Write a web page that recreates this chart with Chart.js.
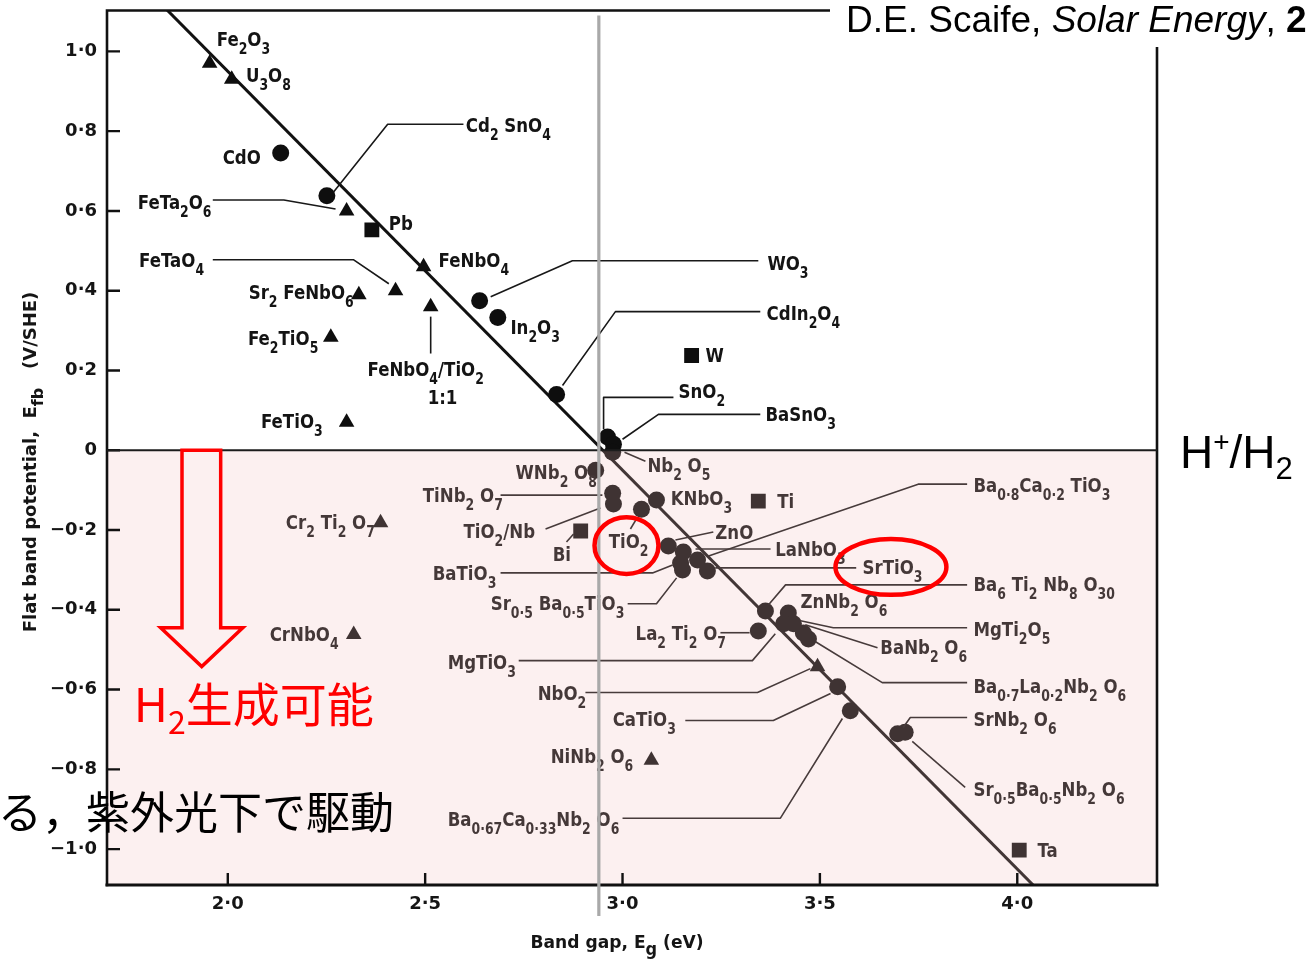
<!DOCTYPE html>
<html>
<head>
<meta charset="utf-8">
<script src="https://cdn.jsdelivr.net/npm/chart.js@4/dist/chart.umd.min.js"></script>
<style>
  html, body { margin: 0; padding: 0; background: #ffffff; }
  #wrap { width: 1306px; height: 965px; position: relative; }
</style>
</head>
<body>
<div id="wrap"><canvas id="chart" width="1306" height="965"></canvas></div>
<script>
// ---- axis ticks ----
const xTicks = [2.0, 2.5, 3.0, 3.5, 4.0];
const yTicks = [1.0, 0.8, 0.6, 0.4, 0.2, 0, -0.2, -0.4, -0.6, -0.8, -1.0];

// ---- oxides (circles) ----
const circleNames = ['CdO', 'Cd2SnO4', 'WO3', 'In2O3', 'CdIn2O4', 'SnO2', 'BaSnO3', 'Nb2O5',
  'WNb2O8', 'TiNb2O7', 'TiO2/Nb', 'KNbO3', 'TiO2', 'ZnO', 'LaNbO3', 'Ba0.8Ca0.2TiO3', 'BaTiO3',
  'Sr0.5Ba0.5TiO3', 'SrTiO3', 'Ba6Ti2Nb8O30', 'La2Ti2O7', 'ZnNb2O6', 'MgTiO3', 'MgTi2O5',
  'BaNb2O6', 'Ba0.7La0.2Nb2O6', 'CaTiO3', 'Ba0.67Ca0.33Nb2O6', 'SrNb2O6', 'Sr0.5Ba0.5Nb2O6'];
const circleGap = [2.134, 2.251, 2.638, 2.684, 2.833, 2.962, 2.977, 2.975,
  2.932, 2.975, 2.977, 3.086, 3.048, 3.116, 3.154, 3.190, 3.147,
  3.152, 3.215, 3.362, 3.344, 3.420, 3.408, 3.433,
  3.458, 3.471, 3.545, 3.577, 3.697, 3.716];
const circleEfb = [0.745, 0.638, 0.375, 0.333, 0.140, 0.033, 0.015, -0.005,
  -0.050, -0.108, -0.135, -0.125, -0.148, -0.240, -0.255, -0.275, -0.283,
  -0.300, -0.303, -0.403, -0.453, -0.408, -0.435, -0.435,
  -0.458, -0.473, -0.593, -0.653, -0.711, -0.707];

// ---- iron / chromium compounds (triangles) ----
const triangleNames = ['Fe2O3', 'U3O8', 'FeTa2O6', 'FeNbO4', 'FeTaO4', 'Sr2FeNbO6', 'FeNbO4/TiO2',
  'Fe2TiO5', 'FeTiO3', 'Cr2Ti2O7', 'CrNbO4', 'NiNb2O6', 'NbO2'];
const triangleGap = [1.954, 2.010, 2.301, 2.496, 2.425, 2.332, 2.514,
  2.261, 2.301, 2.387, 2.319, 3.073, 3.494];
const triangleEfb = [0.970, 0.930, 0.600, 0.460, 0.400, 0.390, 0.360,
  0.283, 0.070, -0.182, -0.462, -0.777, -0.543];

// ---- anodised metals (squares) ----
const squareNames = ['Pb', 'W', 'Ti', 'Bi', 'Ta'];
const squareGap = [2.365, 3.175, 3.344, 2.894, 4.005];
const squareEfb = [0.5525, 0.2375, -0.1275, -0.2025, -1.0025];

// ---- trend line  E_fb = 2.95 - E_g ----
const fitGap = [1.84, 4.06];
const fitEfb = [1.11, -1.11];

// visible-light limit (eV)
const visibleLimit = 2.94;

// ---- compound labels: left/baseline anchor in data units ("_" = subscript) ----
const annotations = [
  {t: 'Fe_2O_3', x: 1.972, y: 1.0125},
  {t: 'U_3O_8', x: 2.046, y: 0.9225},
  {t: 'CdO', x: 1.987, y: 0.7175},
  {t: 'Cd_2 SnO_4', x: 2.603, y: 0.7975},
  {t: 'FeTa_2O_6', x: 1.772, y: 0.605},
  {t: 'Pb', x: 2.408, y: 0.5525},
  {t: 'FeTaO_4', x: 1.775, y: 0.46},
  {t: 'FeNbO_4', x: 2.534, y: 0.46},
  {t: 'Sr_2 FeNbO_6', x: 2.053, y: 0.38},
  {t: 'Fe_2TiO_5', x: 2.051, y: 0.265},
  {t: 'FeNbO_4/TiO_2', x: 2.354, y: 0.185},
  {t: '1:1', x: 2.544, y: 0.115, a: 'center'},
  {t: 'FeTiO_3', x: 2.084, y: 0.055},
  {t: 'WO_3', x: 3.367, y: 0.4525},
  {t: 'CdIn_2O_4', x: 3.365, y: 0.3275},
  {t: 'In_2O_3', x: 2.716, y: 0.2925},
  {t: 'W', x: 3.210, y: 0.22},
  {t: 'SnO_2', x: 3.142, y: 0.13},
  {t: 'BaSnO_3', x: 3.362, y: 0.0725},
  {t: 'Nb_2 O_5', x: 3.063, y: -0.055},
  {t: 'WNb_2 O_8', x: 2.729, y: -0.0725},
  {t: 'KNbO_3', x: 3.122, y: -0.1375},
  {t: 'Ti', x: 3.392, y: -0.145},
  {t: 'TiNb_2 O_7', x: 2.494, y: -0.13},
  {t: 'TiO_2/Nb', x: 2.597, y: -0.22},
  {t: 'Bi', x: 2.823, y: -0.2775},
  {t: 'TiO_2', x: 2.965, y: -0.245},
  {t: 'ZnO', x: 3.235, y: -0.2225},
  {t: 'LaNbO_3', x: 3.387, y: -0.265},
  {t: 'Ba_0·8Ca_0·2 TiO_3', x: 3.889, y: -0.105},
  {t: 'SrTiO_3', x: 3.608, y: -0.31},
  {t: 'Ba_6 Ti_2 Nb_8 O_30', x: 3.889, y: -0.3525},
  {t: 'BaTiO_3', x: 2.519, y: -0.325},
  {t: 'Sr_0·5 Ba_0·5TiO_3', x: 2.666, y: -0.40},
  {t: 'ZnNb_2 O_6', x: 3.451, y: -0.395},
  {t: 'La_2 Ti_2 O_7', x: 3.033, y: -0.475},
  {t: 'MgTi_2O_5', x: 3.889, y: -0.465},
  {t: 'BaNb_2 O_6', x: 3.653, y: -0.51},
  {t: 'MgTiO_3', x: 2.557, y: -0.5475},
  {t: 'Ba_0·7La_0·2Nb_2 O_6', x: 3.889, y: -0.6075},
  {t: 'NbO_2', x: 2.785, y: -0.625},
  {t: 'SrNb_2 O_6', x: 3.889, y: -0.6925},
  {t: 'CaTiO_3', x: 2.975, y: -0.6925},
  {t: 'NiNb_2 O_6', x: 2.818, y: -0.785},
  {t: 'Sr_0·5Ba_0·5Nb_2 O_6', x: 3.889, y: -0.8675},
  {t: 'Ba_0·67Ca_0·33Nb_2 O_6', x: 2.557, y: -0.9425},
  {t: 'Ta', x: 4.051, y: -1.02},
  {t: 'Cr_2 Ti_2 O_7', x: 2.147, y: -0.1975},
  {t: 'CrNbO_4', x: 2.106, y: -0.4775}
];

// ---- leader lines from labels to their markers (data units) ----
const leaders = [
  [[2.597, 0.8175], [2.405, 0.8175], [2.268, 0.6475]],          // Cd2SnO4
  [[1.962, 0.6275], [2.142, 0.6275], [2.273, 0.605]],           // FeTa2O6
  [[1.962, 0.4775], [2.319, 0.4775], [2.408, 0.4175]],          // FeTaO4
  [[2.514, 0.2425], [2.514, 0.335]],                            // FeNbO4/TiO2
  [[3.344, 0.475], [2.873, 0.475], [2.666, 0.385]],             // WO3
  [[3.349, 0.3475], [2.982, 0.3475], [2.848, 0.1625]],          // CdIn2O4
  [[3.129, 0.1325], [2.952, 0.1325], [2.952, 0.0525]],          // SnO2
  [[3.349, 0.09], [3.091, 0.09], [3.0, 0.0275]],                // BaSnO3
  [[3.058, -0.0275], [3.005, -0.005]],                          // Nb2O5
  [[2.691, -0.1125], [2.949, -0.1125]],                         // TiNb2O7
  [[2.805, -0.1975], [2.944, -0.145]],                          // TiO2/Nb
  [[2.858, -0.23], [2.876, -0.21]],                             // Bi
  [[3.020, -0.1975], [3.035, -0.1725]],                         // TiO2
  [[3.230, -0.205], [3.134, -0.225]],                           // ZnO
  [[3.375, -0.2475], [3.185, -0.2475]],                         // LaNbO3
  [[3.873, -0.085], [3.749, -0.085], [3.218, -0.265]],          // Ba0.8Ca0.2TiO3
  [[3.592, -0.295], [3.235, -0.295]],                           // SrTiO3
  [[3.873, -0.3375], [3.413, -0.3375], [3.370, -0.3875]],       // Ba6Ti2Nb8O30
  [[2.691, -0.3075], [3.076, -0.3075], [3.127, -0.2875]],       // BaTiO3
  [[3.013, -0.385], [3.086, -0.385], [3.137, -0.32]],           // Sr0.5Ba0.5TiO3
  [[3.248, -0.4575], [3.322, -0.4575]],                         // La2Ti2O7
  [[3.873, -0.445], [3.534, -0.445], [3.451, -0.4275]],         // MgTi2O5
  [[3.646, -0.495], [3.463, -0.4375]],                          // BaNb2O6
  [[2.737, -0.5275], [3.329, -0.5275], [3.387, -0.46]],         // MgTiO3
  [[3.873, -0.5825], [3.658, -0.5825], [3.489, -0.48]],         // Ba0.7La0.2Nb2O6
  [[2.906, -0.6075], [3.342, -0.6075], [3.476, -0.5475]],       // NbO2
  [[3.873, -0.67], [3.729, -0.67], [3.711, -0.695]],            // SrNb2O6
  [[3.159, -0.6775], [3.382, -0.6775], [3.527, -0.61]],         // CaTiO3
  [[3.868, -0.845], [3.734, -0.73]],                            // Sr0.5Ba0.5Nb2O6
  [[3.0, -0.9225], [3.4, -0.9225], [3.557, -0.6725]]            // Ba0.67Ca0.33Nb2O6
];

// ---- rich text: "_2" / "_{fb}" subscript, "^{+}" superscript ----
function segments(str) {
  const out = [];
  const re = /_\{([^}]*)\}|_([0-9·]+)|\^\{([^}]*)\}/g;
  let last = 0, m;
  while ((m = re.exec(str))) {
    if (m.index > last) out.push({t: str.slice(last, m.index), k: 0});
    if (m[3] !== undefined) out.push({t: m[3], k: 1});
    else out.push({t: m[1] !== undefined ? m[1] : m[2], k: -1});
    last = re.lastIndex;
  }
  if (last < str.length) out.push({t: str.slice(last), k: 0});
  return out;
}
function richText(ctx, str, x, y, st) {
  const parts = segments(str);
  const fontOf = k => `${st.style || 'normal'} ${st.weight || 'normal'} ${k === 0 ? st.size : (k < 0 ? st.sub : st.sup)}px ${st.family}`;
  let w = 0;
  parts.forEach(p => { ctx.font = fontOf(p.k); p.w = ctx.measureText(p.t).width; w += p.w; });
  ctx.save();
  ctx.translate(x, y);
  ctx.scale(st.sx || 1, 1);
  let cx = st.align === 'center' ? -w / 2 : (st.align === 'right' ? -w : 0);
  ctx.fillStyle = st.color;
  ctx.textAlign = 'left';
  ctx.textBaseline = 'alphabetic';
  parts.forEach(p => {
    ctx.font = fontOf(p.k);
    ctx.fillText(p.t, cx, p.k < 0 ? st.drop : (p.k > 0 ? -st.rise : 0));
    cx += p.w;
  });
  ctx.restore();
}

const labelStyle = {size: 20, sub: 15, drop: 8, family: '"DejaVu Sans"', weight: 'bold', color: '#141414', sx: 0.83};

const decor = {
  id: 'decor',
  afterDatasetsDraw(chart) {
    const {ctx, chartArea: a, scales: {x, y}} = chart;
    const px = v => x.getPixelForValue(v);
    const py = v => y.getPixelForValue(v);
    ctx.save();

    // leader lines
    ctx.strokeStyle = '#181818';
    ctx.lineWidth = 1.6;
    ctx.lineJoin = 'round';
    leaders.forEach(l => {
      ctx.beginPath();
      l.forEach(([g, e], i) => i ? ctx.lineTo(px(g), py(e)) : ctx.moveTo(px(g), py(e)));
      ctx.stroke();
    });

    // compound labels
    annotations.forEach(l => richText(ctx, l.t, px(l.x), py(l.y), {...labelStyle, align: l.a || 'left'}));

    // tint of the H2-evolution region (below 0 V)
    const y0 = py(0);
    ctx.fillStyle = 'rgba(240,188,188,0.22)';
    ctx.fillRect(a.left, y0, a.right - a.left, a.bottom - y0);

    // frame
    ctx.strokeStyle = '#111';
    ctx.lineCap = 'square';
    ctx.lineWidth = 2.6;
    ctx.beginPath();
    ctx.moveTo(a.left, a.top); ctx.lineTo(a.right, a.top);
    ctx.moveTo(a.left, a.top); ctx.lineTo(a.left, a.bottom);
    ctx.moveTo(a.right, a.top); ctx.lineTo(a.right, a.bottom);
    ctx.stroke();
    ctx.lineWidth = 3;
    ctx.beginPath(); ctx.moveTo(a.left, a.bottom); ctx.lineTo(a.right, a.bottom); ctx.stroke();

    // inward tick marks
    ctx.lineCap = 'butt';
    ctx.lineWidth = 2.4;
    ctx.beginPath();
    yTicks.forEach(v => { ctx.moveTo(a.left, py(v)); ctx.lineTo(a.left + 13, py(v)); });
    xTicks.forEach(v => { ctx.moveTo(px(v), a.bottom); ctx.lineTo(px(v), a.bottom - 12); });
    ctx.stroke();

    // H+/H2 reference line
    ctx.strokeStyle = '#1c1c1c';
    ctx.lineWidth = 2.2;
    ctx.beginPath(); ctx.moveTo(a.left, y0); ctx.lineTo(a.right, y0); ctx.stroke();

    // axis titles
    richText(ctx, 'Band gap, E_{g} (eV)', 617, 948,
      {size: 18, sub: 17, drop: 7, family: '"DejaVu Sans"', weight: 'bold', color: '#151515', sx: 0.95, align: 'center'});
    ctx.save();
    ctx.translate(36, 462);
    ctx.rotate(-Math.PI / 2);
    richText(ctx, 'Flat band potential,  E_{fb}   (V/SHE)', 0, 0,
      {size: 18, sub: 16, drop: 7, family: '"DejaVu Sans"', weight: 'bold', color: '#151515', sx: 1.0, align: 'center'});
    ctx.restore();

    // visible-light limit
    ctx.strokeStyle = '#a9a9a9';
    ctx.lineWidth = 3.2;
    ctx.beginPath(); ctx.moveTo(px(visibleLimit), a.top + 5); ctx.lineTo(px(visibleLimit), a.bottom + 31); ctx.stroke();

    // red hollow arrow pointing into the H2-evolution region
    const arrow = [[1.884, 0], [1.982, 0], [1.982, -0.445], [2.038, -0.445], [1.934, -0.5425],
                   [1.830, -0.445], [1.884, -0.445]];
    ctx.strokeStyle = '#ff0000';
    ctx.lineWidth = 3.5;
    ctx.lineJoin = 'miter';
    ctx.beginPath();
    arrow.forEach(([g, e], i) => i ? ctx.lineTo(px(g), py(e)) : ctx.moveTo(px(g), py(e)));
    ctx.closePath();
    ctx.stroke();

    // highlight rings around TiO2 and SrTiO3
    const rings = [[3.010, -0.239, 0.081, 0.071], [3.680, -0.2925, 0.1405, 0.070]];
    ctx.lineWidth = 4.5;
    rings.forEach(([g, e, rg, re]) => {
      ctx.beginPath();
      ctx.ellipse(px(g), py(e), px(g + rg) - px(g), py(e - re) - py(e), 0, 0, Math.PI * 2);
      ctx.stroke();
    });

    richText(ctx, 'H_2生成可能', px(1.762), py(-0.6825),
      {size: 47, sub: 32, drop: 12, family: '"Noto Sans CJK JP"', color: '#ff0000'});
    richText(ctx, 'る，紫外光下で駆動', 394, 829,
      {size: 44, sub: 30, drop: 10, family: '"Noto Sans CJK JP"', color: '#000', align: 'right'});
    richText(ctx, 'H^{+}/H_2', a.right + 23, y0 + 18,
      {size: 46, sub: 31, drop: 11, sup: 28, rise: 17, family: '"Liberation Sans"', color: '#000'});

    // reference, pasted over the top-right corner of the frame
    ctx.fillStyle = '#ffffff';
    ctx.fillRect(830, 0, 476, 47);
    let cx = 846;
    const cite = [['D.E. Scaife, ', 'normal normal'], ['Solar Energy', 'italic normal'], [', ', 'normal normal'], ['2', 'normal bold']];
    ctx.fillStyle = '#000';
    ctx.textAlign = 'left';
    ctx.textBaseline = 'alphabetic';
    cite.forEach(([t, f]) => {
      ctx.font = `${f} 37px "Liberation Sans"`;
      ctx.fillText(t, cx, 32);
      cx += ctx.measureText(t).width;
    });
    ctx.restore();
  }
};

const pts = (gx, ey) => gx.map((g, i) => ({x: g, y: ey[i]}));
const ink = '#0e0e0e';
const fmt = v => {
  if (Math.abs(v) < 1e-9) return '0';
  const s = Math.abs(v).toFixed(1).replace('.', '·');
  return v < 0 ? '−' + s : s;
};

new Chart(document.getElementById('chart'), {
  type: 'scatter',
  data: {
    datasets: [
      {label: 'circles', data: pts(circleGap, circleEfb), pointStyle: 'circle', pointRadius: 8.5,
       backgroundColor: ink, borderColor: ink, borderWidth: 0},
      {label: 'triangles', data: pts(triangleGap, triangleEfb), pointStyle: 'triangle', pointRadius: 9,
       backgroundColor: ink, borderColor: ink, borderWidth: 0},
      {label: 'squares', data: pts(squareGap, squareEfb), pointStyle: 'rect', pointRadius: 10.5,
       backgroundColor: ink, borderColor: ink, borderWidth: 0},
      {label: 'trend', data: pts(fitGap, fitEfb), showLine: true, pointRadius: 0,
       borderColor: '#111', borderWidth: 3}
    ]
  },
  options: {
    responsive: false,
    devicePixelRatio: 1,
    animation: false,
    events: [],
    layout: {padding: {left: 0, right: 149, top: 8, bottom: 0}},
    plugins: {legend: {display: false}, tooltip: {enabled: false}},
    scales: {
      x: {
        type: 'linear', min: 1.694, max: 4.354,
        afterBuildTicks: s => { s.ticks = xTicks.map(v => ({value: v})); },
        afterFit: s => { s.height = 80; s.paddingLeft = 0; s.paddingRight = 0; },
        grid: {display: false, drawTicks: false},
        border: {display: false},
        ticks: {callback: fmt, padding: 9, maxRotation: 0, autoSkip: false, color: '#151515',
                font: {family: 'DejaVu Sans', size: 18, weight: 'bold'}}
      },
      y: {
        type: 'linear', min: -1.09, max: 1.1025,
        afterBuildTicks: s => { s.ticks = yTicks.map(v => ({value: v})); },
        afterFit: s => { s.width = 107; s.paddingTop = 0; s.paddingBottom = 0; },
        grid: {display: false, drawTicks: false},
        border: {display: false},
        ticks: {callback: fmt, padding: 10, autoSkip: false, color: '#151515',
                font: {family: 'DejaVu Sans', size: 18, weight: 'bold'}}
      }
    }
  },
  plugins: [decor]
});
</script>
</body>
</html>
